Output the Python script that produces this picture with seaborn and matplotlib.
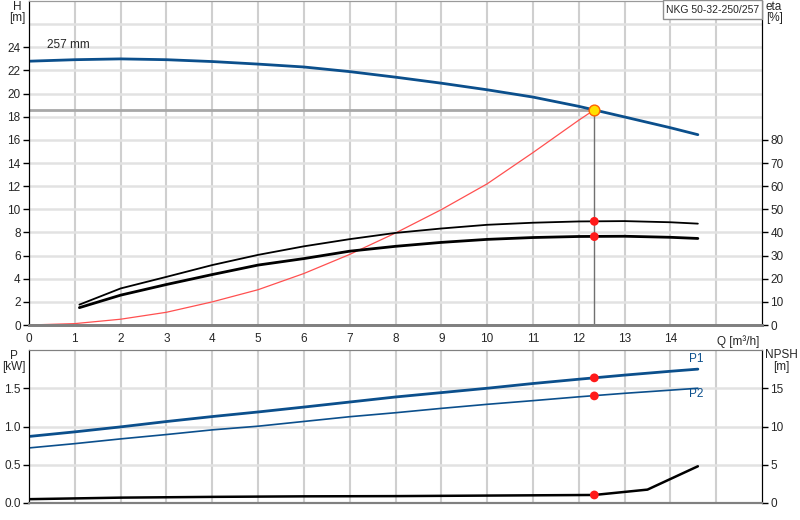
import numpy as np
import matplotlib
matplotlib.use("Agg")
import matplotlib.pyplot as plt
import seaborn as sns
from matplotlib.patches import Rectangle

# pump curve H(Q), 257 mm impeller
q_h = [0, 1, 2, 3, 4, 5, 6, 7, 8, 9, 10, 11, 12, 13, 14, 14.6]
h_vals = [22.8, 22.93, 23.0, 22.93, 22.77, 22.55, 22.3, 21.9, 21.42, 20.9, 20.33, 19.7, 18.9, 17.98, 17.05, 16.45]

# system curve
q_sys = [0, 1, 2, 3, 4, 5, 6, 7, 8, 9, 10, 11, 12, 12.34]
h_sys = [0, 0.12, 0.5, 1.1, 2.0, 3.05, 4.45, 6.1, 7.95, 9.97, 12.2, 14.9, 17.7, 18.6]

# efficiencies [%]
q_eta = [1.1, 2, 3, 4, 5, 6, 7, 8, 9, 10, 11, 12, 13, 14, 14.6]
eta_pump = [8.8, 15.8, 20.8, 25.9, 30.3, 34.0, 37.1, 39.8, 41.7, 43.3, 44.2, 44.75, 44.9, 44.4, 43.8]
eta_total = [7.5, 12.9, 17.5, 21.8, 25.9, 28.7, 31.9, 34.0, 35.7, 37.0, 37.8, 38.25, 38.35, 37.9, 37.4]

# power [kW]
q_p = [0, 1, 2, 3, 4, 5, 6, 7, 8, 9, 10, 11, 12, 13, 14, 14.6]
p1 = [0.87, 0.93, 0.995, 1.065, 1.13, 1.19, 1.254, 1.32, 1.386, 1.443, 1.50, 1.562, 1.618, 1.672, 1.722, 1.75]
p2 = [0.72, 0.776, 0.838, 0.895, 0.956, 1.004, 1.066, 1.128, 1.18, 1.237, 1.29, 1.338, 1.388, 1.434, 1.475, 1.50]

# NPSH [m]
q_npsh = [0, 2, 4, 6, 8, 10, 12.34, 13.5, 14.6]
npsh = [0.5, 0.7, 0.8, 0.87, 0.9, 0.97, 1.05, 1.75, 4.8]

# duty point
q_duty = 12.34
h_duty = 18.6
eta_duty = [44.8, 38.2]
p_duty = [1.636, 1.40]
npsh_duty = 1.05

x_ticks = list(range(17))
x_labels = [str(i) for i in range(15)] + ["", ""]

sns.set_style("white")
plt.rcParams["font.family"] = ["Liberation Sans", "DejaVu Sans"]
plt.rcParams["font.size"] = 8.5

blue = "#0b4f8c"
grid_v = "#cfcfcf"
grid_h = "#e2e2e2"

fig = plt.figure(figsize=(8, 5.2), dpi=100)
ax = fig.add_axes([0.03625, 0.375, 0.91625, 0.623])
ax_eta = ax.twinx()
axb = fig.add_axes([0.03625, 0.0327, 0.91625, 0.2942])
ax_n = axb.twinx()

# ---- top panel
ax.set_xlim(0, 16)
ax.set_ylim(0, 28)
ax_eta.set_ylim(0, 140)
for x in range(1, 16):
    ax.axvline(x, color=grid_v, lw=1.5, zorder=0)
for y in range(2, 28, 2):
    ax.axhline(y, color=grid_h, lw=1.8, zorder=0)

ax.plot([0, q_duty], [18.55, 18.55], color="#a8a8a8", lw=2, zorder=1)
ax.plot([q_duty, q_duty], [0, h_duty], color="#707070", lw=1, zorder=1)

sns.lineplot(x=q_sys, y=h_sys, ax=ax, color="#ff5050", lw=0.9, zorder=2)
sns.lineplot(x=q_h, y=h_vals, ax=ax, color=blue, lw=2, zorder=3)
sns.lineplot(x=q_eta, y=eta_pump, ax=ax_eta, color="black", lw=1.3, zorder=3)
sns.lineplot(x=q_eta, y=eta_total, ax=ax_eta, color="black", lw=2, zorder=3)
sns.scatterplot(x=[q_duty, q_duty], y=eta_duty, ax=ax_eta, color="#ff1a1a", s=40,
                edgecolor="none", zorder=5)
sns.scatterplot(x=[q_duty], y=[h_duty], ax=ax, color="#ffe000", s=60,
                edgecolor="#ff6000", linewidth=1, zorder=6)

ax.text(0.4, 23.7, "257 mm", fontsize=8.5, va="bottom", ha="left")

ax.set_xticks(x_ticks)
ax.set_xticklabels(x_labels)
ax.set_yticks(range(0, 25, 2))
ax_eta.set_yticks(range(0, 81, 10))
ax.tick_params(axis="both", direction="out", length=4, width=1, color="black", pad=2)
ax_eta.tick_params(axis="y", direction="out", length=4, width=1, color="black", pad=2)
ax.set_xlabel("")
ax.set_ylabel("")
ax_eta.set_ylabel("")
ax.text(15.95, -0.9, "Q [m³/h]", ha="right", va="top", fontsize=8.5)

for a in (ax, ax_eta):
    a.spines["left"].set_color("black")
    a.spines["right"].set_color("black")
    a.spines["top"].set_color("#9a9a9a")
    a.spines["bottom"].set_color("#808080")
    a.spines["bottom"].set_linewidth(2)
    for s in a.spines.values():
        s.set_visible(True)

# ---- bottom panel
axb.set_xlim(0, 16)
axb.set_ylim(0, 2.0)
ax_n.set_ylim(0, 20)
for x in range(1, 16):
    axb.axvline(x, color=grid_v, lw=1.5, zorder=0)
for y in [0.5, 1.0, 1.5]:
    axb.axhline(y, color=grid_h, lw=1.8, zorder=0)

sns.lineplot(x=q_p, y=p1, ax=axb, color=blue, lw=2, zorder=3)
sns.lineplot(x=q_p, y=p2, ax=axb, color=blue, lw=1.2, zorder=3)
sns.lineplot(x=q_npsh, y=npsh, ax=ax_n, color="black", lw=1.8, zorder=3)
sns.scatterplot(x=[q_duty, q_duty], y=p_duty, ax=axb, color="#ff1a1a", s=40,
                edgecolor="none", zorder=5)
sns.scatterplot(x=[q_duty], y=[npsh_duty], ax=ax_n, color="#ff1a1a", s=40,
                edgecolor="none", zorder=5)
axb.text(14.57, 1.88, "P1", color=blue, ha="center", va="center", fontsize=8.5)
axb.text(14.57, 1.42, "P2", color=blue, ha="center", va="center", fontsize=8.5)

axb.set_xticks(x_ticks)
axb.set_xticklabels([])
axb.tick_params(axis="x", length=0)
axb.set_yticks([0, 0.5, 1.0, 1.5])
axb.set_yticklabels(["0.0", "0.5", "1.0", "1.5"])
axb.tick_params(axis="y", direction="out", length=4, width=1, color="black", pad=2)
ax_n.set_yticks([0, 5, 10, 15])
ax_n.tick_params(axis="y", direction="out", length=4, width=1, color="black", pad=2)
axb.set_ylabel("")
ax_n.set_ylabel("")

for a in (axb, ax_n):
    a.spines["left"].set_color("black")
    a.spines["right"].set_color("black")
    a.spines["top"].set_color("#808080")
    a.spines["bottom"].set_color("#808080")
    a.spines["bottom"].set_linewidth(1.5)
    for s in a.spines.values():
        s.set_visible(True)

# axis captions and title box
fig.text(17 / 800, 1 - 1 / 520, "H", ha="center", va="top", fontsize=8.5)
fig.text(17 / 800, 1 - 12 / 520, "[m]", ha="center", va="top", fontsize=8.5)
fig.text(766 / 800, 1 - 1 / 520, "eta", ha="left", va="top", fontsize=8.5)
fig.text(766 / 800, 1 - 12 / 520, "[%]", ha="left", va="top", fontsize=8.5)
fig.text(14 / 800, 1 - 356 / 520, "P", ha="center", va="center", fontsize=8.5)
fig.text(14 / 800, 1 - 367 / 520, "[kW]", ha="center", va="center", fontsize=8.5)
fig.text(781 / 800, 1 - 355 / 520, "NPSH", ha="center", va="center", fontsize=8.5)
fig.text(781 / 800, 1 - 367 / 520, "[m]", ha="center", va="center", fontsize=8.5)
fig.patches.append(Rectangle((663 / 800, 1 - 19 / 520), 99 / 800, 19 / 520,
                             transform=fig.transFigure, fc="white", ec="#909090",
                             lw=1, zorder=10))
fig.text(712.5 / 800, 1 - 10 / 520, "NKG 50-32-250/257", ha="center", va="center",
         fontsize=7.5, zorder=11)

fig.savefig("out.png", dpi=100)
